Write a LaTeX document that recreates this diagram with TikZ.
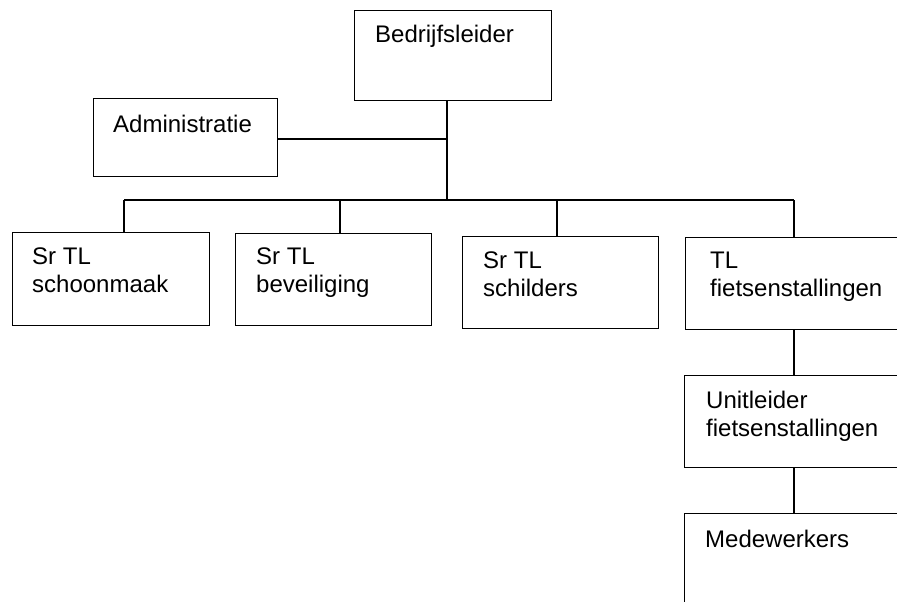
\documentclass[tikz,border=0pt]{standalone}
\usepackage{fontspec}
\setmainfont{Liberation Sans}
\begin{document}
\begin{tikzpicture}[x=1pt,y=-1pt,
  box/.style={draw, line width=1.4pt, rectangle, anchor=north west, inner sep=0pt},
  lbl/.style={anchor=base west, inner sep=0pt, align=left, font=\fontsize{24}{27.5}\selectfont},
  conn/.style={line width=1.4pt}]
\useasboundingbox (0,0) rectangle (897,602);
\clip (0,0) rectangle (897,602);
\fill[white] (0,0) rectangle (897,602);
% boxes
\node[box, minimum width=197pt, minimum height=90pt] (bed) at (354,10) {};
\node[box, minimum width=184pt, minimum height=78pt] (adm) at (93,98) {};
\node[box, minimum width=197pt, minimum height=93pt] (sch) at (12,232) {};
\node[box, minimum width=196pt, minimum height=92pt] (bev) at (235,233) {};
\node[box, minimum width=196pt, minimum height=92pt] (sil) at (462,236) {};
\node[box, minimum width=240pt, minimum height=92pt] (fts) at (685,237) {};
\node[box, minimum width=240pt, minimum height=92pt] (uni) at (684,375) {};
\node[box, minimum width=240pt, minimum height=120pt] (med) at (684,513) {};
% labels (base anchor = baseline of last line)
\node[lbl] (bedT) at (375,43) {Bedrijfsleider};
\node[lbl] (admT) at (113,132) {Administratie};
\node[lbl] (schT) at (32,292) {Sr TL\\schoonmaak};
\node[lbl] (bevT) at (256,292) {Sr TL\\beveiliging};
\node[lbl] (silT) at (483,296) {Sr TL\\schilders};
\node[lbl] (ftsT) at (710,296) {TL\\fietsenstallingen};
\node[lbl] (uniT) at (706,436) {Unitleider\\fietsenstallingen};
\node[lbl] (medT) at (705,547) {Medewerkers};
% junctions
\coordinate (j1) at (447,139);
\coordinate (j2) at (447,200);
\coordinate (b1) at (124,200);
\coordinate (b2) at (340,200);
\coordinate (b3) at (557,200);
\coordinate (b4) at (794,200);
% connectors
\draw[conn] (bed.south -| j1) -- (j2);
\draw[conn] (adm.east |- j1) -- (j1);
\draw[conn] (b1) -- (b4);
\draw[conn] (b1) -- (b1 |- sch.north);
\draw[conn] (b2) -- (b2 |- bev.north);
\draw[conn] (b3) -- (b3 |- sil.north);
\draw[conn] (b4) -- (b4 |- fts.north);
\draw[conn] (b4 |- fts.south) -- (b4 |- uni.north);
\draw[conn] (b4 |- uni.south) -- (b4 |- med.north);
\end{tikzpicture}
\end{document}
